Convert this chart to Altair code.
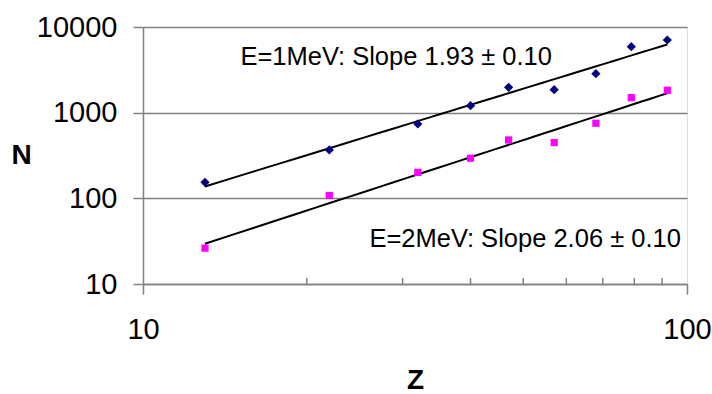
import altair as alt
import pandas as pd

# ---- data ----
z_values = [13, 22, 32, 40, 47, 57, 68, 79, 92]
n_1mev = [154, 367, 738, 1208, 1977, 1853, 2850, 5890, 7050]
n_2mev = [26.2, 108, 201, 294, 480, 447, 752, 1496, 1825]
series_names = ["1MeV", "2MeV"]
x_ticks = [10, 100]
x_minor = [20, 30, 40, 50, 60, 70, 80, 90]
y_ticks = [10, 100, 1000, 10000]
labels = ["E=1MeV: Slope 1.93 ± 0.10", "E=2MeV: Slope 2.06 ± 0.10"]
label_z = [29.2, 50.4]
label_n = [4500, 33.6]

W, H = 544, 257
FONT = "Liberation Sans"
GRAY = "#808080"

df = pd.DataFrame({
    "Z": z_values * 2,
    "N": n_1mev + n_2mev,
    "E": [series_names[0]] * len(z_values) + [series_names[1]] * len(z_values),
})
df_text = pd.DataFrame({"Z": label_z, "N": label_n, "label": labels})
df_minor = pd.DataFrame({"Z": x_minor})

xscale = alt.Scale(type="log", domain=[10, 100], nice=False)
yscale = alt.Scale(type="log", domain=[10, 10000], nice=False)

xaxis = alt.Axis(
    values=x_ticks, format="d", title="Z", grid=False,
    labelFontSize=29, labelFont=FONT, labelColor="black", labelFlush=False,
    labelPadding=21, tickSize=10, tickColor=GRAY, tickWidth=1.5,
    domainColor=GRAY, domainWidth=1.5,
    titleFontSize=28, titleFont=FONT, titleFontWeight="bold", titleColor="black",
    titleX=272, titleY=96, titleAlign="center", titleBaseline="middle",
)
yaxis = alt.Axis(
    values=y_ticks, format="d", title="N", grid=True, gridColor=GRAY, gridWidth=1.5,
    labelFontSize=29, labelFont=FONT, labelColor="black", labelFlush=False,
    labelPadding=16, tickSize=10, tickColor=GRAY, tickWidth=1.5,
    domainColor=GRAY, domainWidth=1.5,
    titleFontSize=28, titleFont=FONT, titleFontWeight="bold", titleColor="black",
    titleAngle=0, titleX=-122, titleY=128, titleAlign="center", titleBaseline="middle",
)

x_enc = alt.X("Z:Q", scale=xscale, axis=xaxis)
y_enc = alt.Y("N:Q", scale=yscale, axis=yaxis)

base = alt.Chart(df)

fit = base.transform_regression(
    "Z", "N", method="pow", groupby=["E"]
).mark_line(color="black", strokeWidth=2).encode(x=x_enc, y=y_enc, detail="E:N")

pts1 = base.transform_filter(alt.datum.E == series_names[0]).mark_point(
    shape="diamond", filled=True, color="#000080", size=85, opacity=1
).encode(x=x_enc, y=y_enc)

pts2 = base.transform_filter(alt.datum.E == series_names[1]).mark_point(
    shape="square", filled=True, color="#FF00FF", size=52, opacity=1
).encode(x=x_enc, y=y_enc)

minor = alt.Chart(df_minor).mark_rule(color=GRAY, strokeWidth=1.5).encode(
    x=x_enc, y=alt.value(H), y2=alt.value(H - 6)
)

txt = alt.Chart(df_text).mark_text(
    font=FONT, fontSize=25.5, color="black", align="center", baseline="middle"
).encode(x=x_enc, y=y_enc, text="label:N")

chart = alt.layer(minor, fit, pts1, pts2, txt).properties(
    width=W, height=H,
    autosize=alt.AutoSizeParams(type="none"),
    padding={"left": 143, "top": 27, "right": 25, "bottom": 110},
).configure_view(stroke=GRAY, strokeWidth=1.5).configure(background="white")

chart.save("out.html", embed_options={"renderer": "svg", "actions": False})
